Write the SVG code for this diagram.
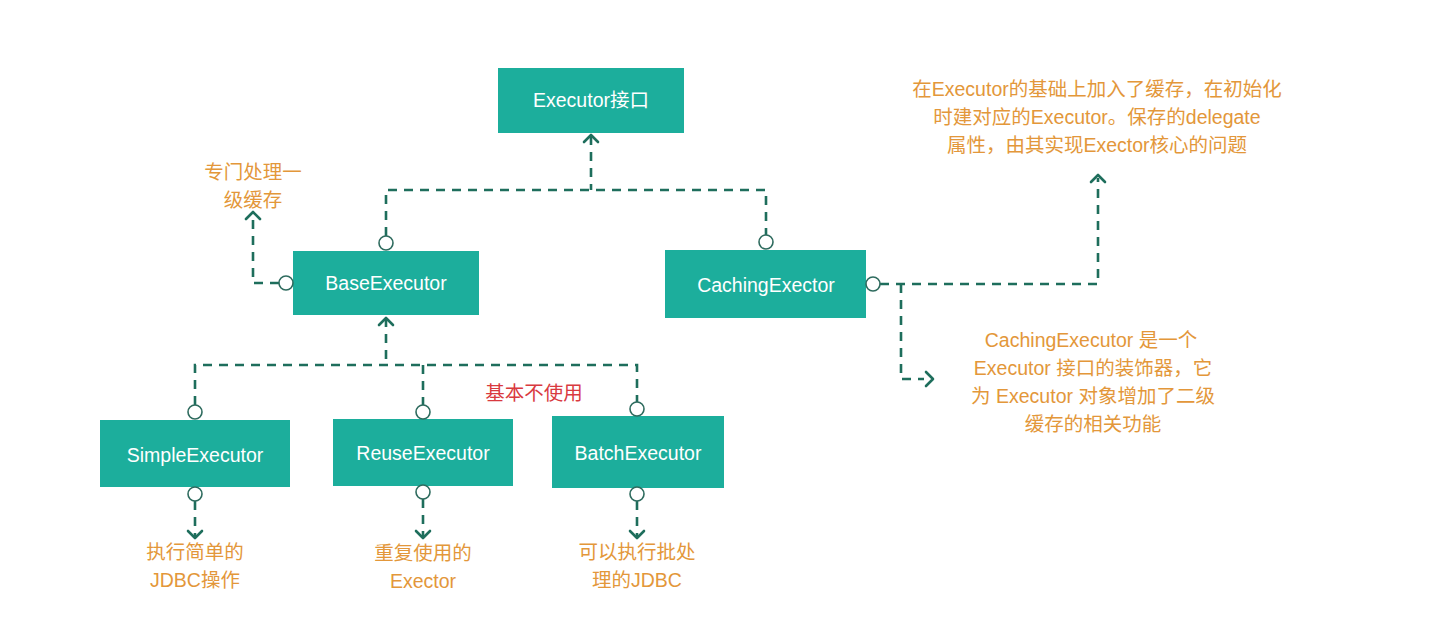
<svg xmlns="http://www.w3.org/2000/svg" width="1435" height="635" viewBox="0 0 1435 635">
<defs>
<style>
.box{fill:#1CAE9C;}
.bt{font-family:"Liberation Sans","Noto Sans CJK SC",sans-serif;font-size:19.5px;fill:#ffffff;text-anchor:middle;dominant-baseline:central;}
.note{font-family:"Liberation Sans","Noto Sans CJK SC",sans-serif;font-size:19.5px;fill:#E3973A;text-anchor:middle;dominant-baseline:central;}
.red{font-family:"Liberation Sans","Noto Sans CJK SC",sans-serif;font-size:19.5px;fill:#D93A3F;text-anchor:middle;dominant-baseline:central;}
.dl{fill:none;stroke:#1E6E5C;stroke-width:2.6;stroke-dasharray:9 7;}
.circ{fill:#ffffff;stroke:#2E6B5E;stroke-width:1.6;}
.ah{fill:none;stroke:#1E6E5C;stroke-width:2.6;stroke-linecap:round;stroke-linejoin:round;}
</style>
</defs>
<rect width="1435" height="635" fill="#ffffff"/>

<g id="connectors">
<path class="dl" d="M591 136 V190"/>
<path class="dl" d="M386 236 V190 H766 V235"/>
<path class="ah" d="M584 142 L591 135 L598 142"/>
<path class="dl" d="M279 283 H253 V213"/>
<path class="ah" d="M246 219 L253 212 L260 219"/>
<path class="dl" d="M880 284 H1098 V178"/>
<path class="ah" d="M1091 182 L1098 175 L1105 182"/>
<path class="dl" d="M901 284 V379 H924"/>
<path class="ah" d="M926 372 L933 379 L926 386"/>
<path class="dl" d="M386 318 V365"/>
<path class="ah" d="M379 325 L386 318 L393 325"/>
<path class="dl" d="M195 405 V365 H637 V402"/>
<path class="dl" d="M423 365 V405"/>
<path class="dl" d="M195 501 V537"/>
<path class="ah" d="M188 531 L195 538 L202 531"/>
<path class="dl" d="M423 499 V537"/>
<path class="ah" d="M416 531 L423 538 L430 531"/>
<path class="dl" d="M637 501 V537"/>
<path class="ah" d="M630 531 L637 538 L644 531"/>
</g>

<g id="executor">
<rect class="box" x="498" y="68" width="186" height="65"/>
<text class="bt" x="591" y="100">Executor接口</text>
</g>

<g id="baseExecutor">
<rect class="box" x="293" y="251" width="186" height="64"/>
<text class="bt" x="386" y="283">BaseExecutor</text>
<circle class="circ" cx="386" cy="243" r="7"/>
<circle class="circ" cx="286" cy="283" r="7"/>
</g>

<g id="cachingExecutor">
<rect class="box" x="665" y="250" width="201" height="68"/>
<text class="bt" x="766" y="285">CachingExector</text>
<circle class="circ" cx="766" cy="242" r="7"/>
<circle class="circ" cx="873" cy="284" r="7"/>
</g>

<g id="simpleExecutor">
<rect class="box" x="100" y="420" width="190" height="67"/>
<text class="bt" x="195" y="455">SimpleExecutor</text>
<circle class="circ" cx="195" cy="412" r="7"/>
<circle class="circ" cx="195" cy="494" r="7"/>
</g>

<g id="reuseExecutor">
<rect class="box" x="333" y="419" width="180" height="67"/>
<text class="bt" x="423" y="453">ReuseExecutor</text>
<circle class="circ" cx="423" cy="412" r="7"/>
<circle class="circ" cx="423" cy="492" r="7"/>
</g>

<g id="batchExecutor">
<rect class="box" x="552" y="416" width="172" height="72"/>
<text class="bt" x="638" y="453">BatchExecutor</text>
<circle class="circ" cx="637" cy="409" r="7"/>
<circle class="circ" cx="637" cy="494" r="7"/>
</g>

<g id="note-base">
<text class="note" x="253" y="172">专门处理一</text>
<text class="note" x="253" y="200">级缓存</text>
</g>

<g id="note-caching-top">
<text class="note" x="1097" y="89">在Executor的基础上加入了缓存，在初始化</text>
<text class="note" x="1097" y="117">时建对应的Executor。保存的delegate</text>
<text class="note" x="1097" y="145">属性，由其实现Exector核心的问题</text>
</g>

<g id="note-caching-bottom">
<text class="note" x="1091" y="340">CachingExecutor 是一个</text>
<text class="note" x="1093" y="368">Executor 接口的装饰器，它</text>
<text class="note" x="1093" y="396">为 Executor 对象增加了二级</text>
<text class="note" x="1093" y="424">缓存的相关功能</text>
</g>

<g id="note-unused">
<text class="red" x="534" y="393">基本不使用</text>
</g>

<g id="note-simple">
<text class="note" x="195" y="552">执行简单的</text>
<text class="note" x="195" y="580">JDBC操作</text>
</g>
<g id="note-reuse">
<text class="note" x="423" y="553">重复使用的</text>
<text class="note" x="423" y="581">Exector</text>
</g>
<g id="note-batch">
<text class="note" x="637" y="552">可以执行批处</text>
<text class="note" x="637" y="580">理的JDBC</text>
</g>
</svg>
